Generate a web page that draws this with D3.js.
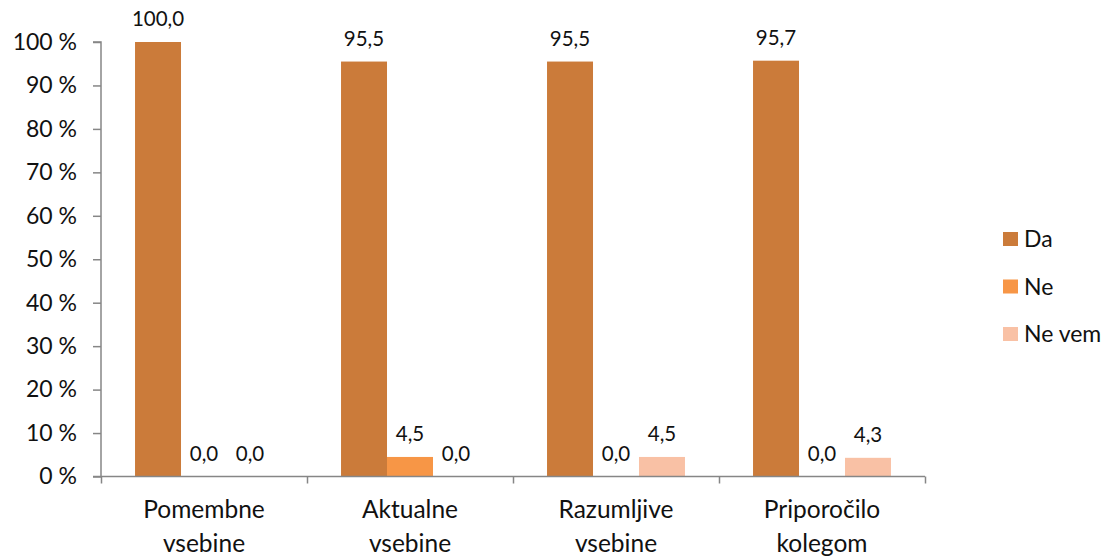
<!DOCTYPE html>
<html>
<head>
<meta charset="utf-8">
<script src="https://cdn.jsdelivr.net/npm/d3@7"></script>
<style>
  html, body { margin: 0; padding: 0; background: #fff; }
  svg { display: block; font-family: Lato, "Open Sans", sans-serif; }
</style>
</head>
<body>
<div class="svg-container"></div>
<script>
    'use strict';

    var categories = [['Pomembne', 'vsebine'], ['Aktualne', 'vsebine'], ['Razumljive', 'vsebine'], ['Priporočilo', 'kolegom']];
    var seriesNames = ['Da', 'Ne', 'Ne vem'];
    var seriesColors = ['#CB7B3A', '#F79646', '#F9C1A5'];
    var da = [100.0, 95.5, 95.5, 95.7];
    var ne = [0.0, 4.5, 0.0, 0.0];
    var neVem = [0.0, 0.0, 4.5, 4.3];
    var yTicks = [0, 10, 20, 30, 40, 50, 60, 70, 80, 90, 100];

    var width = 1112, height = 557;
    var values = [da, ne, neVem];
    var catKeys = categories.map(function(c){ return c.join(' '); });

    var svg = d3.select('.svg-container').append('svg')
        .attr('width', width)
        .attr('height', height);

    var x0 = d3.scaleBand().domain(catKeys).range([101, 925]);
    var x1 = d3.scaleBand().domain(seriesNames).range([0, x0.bandwidth()]).paddingOuter(0.74);
    var y = d3.scaleLinear().domain([0, 100]).range([476.5, 42]);

    var comma = function(v){ return d3.format('.1f')(v).replace('.', ','); };

    // bars
    var groups = svg.append('g').selectAll('g')
        .data(catKeys)
        .enter().append('g')
        .attr('transform', function(d){ return 'translate(' + x0(d) + ',0)'; });

    groups.selectAll('rect')
        .data(function(d, i){ return seriesNames.map(function(s, j){ return {s: s, v: values[j][i], c: seriesColors[j]}; }); })
        .enter().append('rect')
        .attr('x', function(d){ return x1(d.s); })
        .attr('width', x1.bandwidth())
        .attr('y', function(d){ return y(d.v); })
        .attr('height', function(d){ return y(0) - y(d.v); })
        .style('fill', function(d){ return d.c; });

    groups.selectAll('text')
        .data(function(d, i){ return seriesNames.map(function(s, j){ return {s: s, v: values[j][i]}; }); })
        .enter().append('text')
        .attr('x', function(d){ return x1(d.s) + x1.bandwidth() / 2; })
        .attr('y', function(d){ return y(d.v) - 16; })
        .attr('text-anchor', 'middle')
        .style('font-size', '20.5px')
        .style('fill', '#111')
        .text(function(d){ return comma(d.v); });

    // y axis
    var yAxis = svg.append('g')
        .attr('transform', 'translate(101,0)')
        .call(d3.axisLeft(y).tickValues(yTicks).tickSize(8).tickPadding(16)
            .tickFormat(function(d){ return d + ' %'; }));
    yAxis.select('.domain').attr('d', 'M-8,' + y(100) + 'H0V' + y(0));

    // x axis
    var xAxis = svg.append('g')
        .attr('transform', 'translate(0,' + y(0) + ')')
        .call(d3.axisBottom(d3.scaleLinear().domain([0, 4]).range([101, 925]))
            .tickValues([0, 1, 2, 3, 4]).tickSize(7).tickFormat(''));
    xAxis.select('.domain').attr('d', 'M93,0H925');

    [yAxis, xAxis].forEach(function(a){
        a.selectAll('.domain, line').style('stroke', '#868686').style('stroke-width', 1.5);
        a.selectAll('text').style('font-size', '23px').style('fill', '#111').style('font-family', 'Lato, sans-serif');
    });

    // category labels
    var catLabels = svg.append('g').selectAll('text')
        .data(categories)
        .enter().append('text')
        .attr('x', function(d, i){ return x0(catKeys[i]) + x0.bandwidth() / 2; })
        .attr('y', 518)
        .attr('text-anchor', 'middle')
        .style('font-size', '24.5px')
        .style('fill', '#111');
    catLabels.selectAll('tspan')
        .data(function(d){ return d; })
        .enter().append('tspan')
        .attr('x', function(){ return d3.select(this.parentNode).attr('x'); })
        .attr('dy', function(d, i){ return i === 0 ? 0 : 34; })
        .text(function(d){ return d; });

    // legend
    var legend = svg.append('g').selectAll('g')
        .data(seriesNames)
        .enter().append('g')
        .attr('transform', function(d, i){ return 'translate(1003,' + (232 + i * 47.5) + ')'; });
    legend.append('rect')
        .attr('width', 15)
        .attr('height', 14)
        .style('fill', function(d, i){ return seriesColors[i]; });
    legend.append('text')
        .attr('x', 21)
        .attr('y', 15)
        .style('font-size', '23px')
        .style('fill', '#111')
        .text(function(d){ return d; });
</script>
</body>
</html>
